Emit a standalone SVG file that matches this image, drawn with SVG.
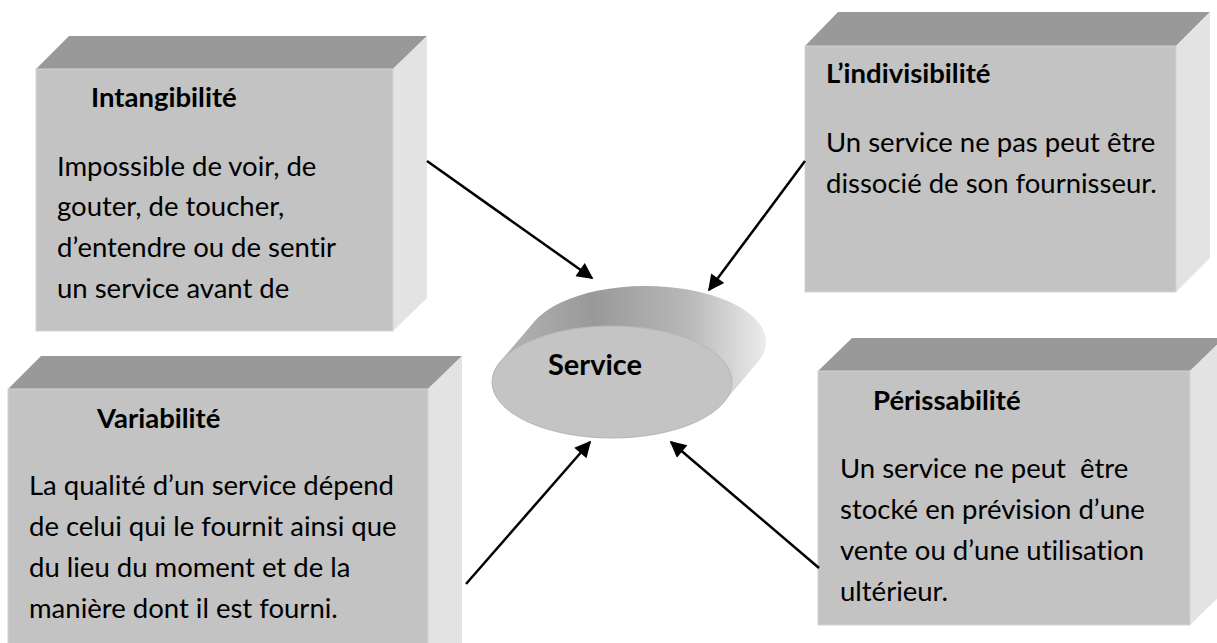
<svg xmlns="http://www.w3.org/2000/svg" width="1217" height="643" viewBox="0 0 1217 643">
  <style>
    .top { fill: #999999; }
    .front { fill: #c3c3c3; stroke: #d4d4d4; stroke-width: 1; }
    .side { fill: #e3e3e3; }
    text { font-family: Lato, "Liberation Sans", sans-serif; font-variant-ligatures: none; fill: #000; }
    .head { font-weight: bold; font-size: 27.5px; }
    .body { font-size: 27.5px; }
    .conn { stroke: #000; stroke-width: 2.5; fill: none; marker-end: url(#arrow); }
  </style>
  <defs>
    <marker id="arrow" viewBox="0 0 10 10" refX="9" refY="5" markerWidth="8" markerHeight="6.5" markerUnits="strokeWidth" orient="auto">
      <path d="M0,0 L10,5 L0,10 z" fill="#000"/>
    </marker>
    <linearGradient id="canSide" x1="500" y1="0" x2="768" y2="0" gradientUnits="userSpaceOnUse">
      <stop offset="0" stop-color="#b4b4b4"/>
      <stop offset="0.35" stop-color="#999999"/>
      <stop offset="0.7" stop-color="#b8b8b8"/>
      <stop offset="1" stop-color="#ededed"/>
    </linearGradient>
  </defs>

  <rect width="1217" height="643" fill="#ffffff"/>

  <!-- Intangibilité -->
  <g id="intangibilite">
    <polygon class="top" points="36,69 69,36 427,36 393,69"/>
    <polygon class="side" points="393,69 427,36 427,298 393,331"/>
    <rect class="front" x="36" y="69" width="357" height="262"/>
    <text class="head" x="91" y="107">Intangibilité</text>
    <text class="body" x="57" y="176">Impossible de voir, de</text>
    <text class="body" x="57" y="216">gouter, de toucher,</text>
    <text class="body" x="57" y="257">d’entendre ou de sentir</text>
    <text class="body" x="57" y="298">un service avant de</text>
  </g>

  <!-- L'indivisibilité -->
  <g id="indivisibilite">
    <polygon class="top" points="805,46 838,12 1210,12 1176,46"/>
    <polygon class="side" points="1176,46 1210,12 1210,258 1176,292"/>
    <rect class="front" x="805" y="46" width="371" height="246"/>
    <text class="head" x="826" y="83">L’indivisibilité</text>
    <text class="body" x="826" y="152">Un service ne pas peut être</text>
    <text class="body" x="826" y="193">dissocié de son fournisseur.</text>
  </g>

  <!-- Variabilité -->
  <g id="variabilite">
    <polygon class="top" points="8,389 41,356 462,356 428,389"/>
    <polygon class="side" points="428,389 462,356 462,650 428,660"/>
    <rect class="front" x="8" y="389" width="420" height="270"/>
    <text class="head" x="97" y="428">Variabilité</text>
    <text class="body" x="29" y="495">La qualité d’un service dépend</text>
    <text class="body" x="29" y="536">de celui qui le fournit ainsi que</text>
    <text class="body" x="29" y="577">du lieu du moment et de la</text>
    <text class="body" x="29" y="618">manière dont il est fourni.</text>
  </g>

  <!-- Périssabilité -->
  <g id="perissabilite">
    <polygon class="top" points="818,371 852,338 1224,338 1190,371"/>
    <polygon class="side" points="1190,371 1224,338 1224,592 1190,625"/>
    <rect class="front" x="818" y="371" width="372" height="254"/>
    <text class="head" x="873" y="410">Périssabilité</text>
    <text class="body" x="840" y="478" xml:space="preserve">Un service ne peut  être</text>
    <text class="body" x="840" y="519">stocké en prévision d’une</text>
    <text class="body" x="840" y="560">vente ou d’une utilisation</text>
    <text class="body" x="840" y="601">ultérieur.</text>
  </g>

  <!-- Service (extruded ellipse) -->
  <g id="service">
    <path d="M500.4,361.4 L534.4,321.4 A120,56 0 0 1 757.6,362.6 L723.6,402.6 A120,56 0 0 0 500.4,361.4 Z" fill="url(#canSide)"/>
    <ellipse cx="612" cy="382" rx="120" ry="56" fill="#c4c4c4" stroke="#b4b4b4" stroke-width="1"/>
    <text class="head" x="548" y="375" style="font-size:29px">Service</text>
  </g>

  <!-- Connectors -->
  <g id="connectors">
    <line class="conn" x1="427" y1="161" x2="592" y2="278"/>
    <line class="conn" x1="805" y1="161" x2="709" y2="290"/>
    <line class="conn" x1="466" y1="584" x2="590" y2="442"/>
    <line class="conn" x1="819" y1="568" x2="671" y2="442"/>
  </g>
</svg>
